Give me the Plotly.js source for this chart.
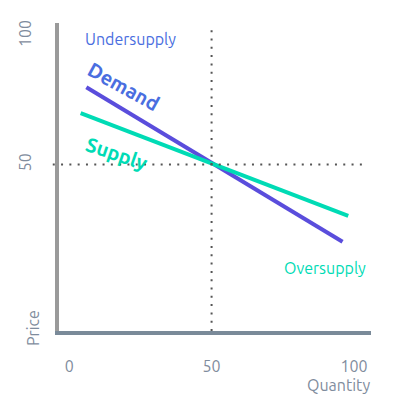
<!DOCTYPE html>
<html>
<head>
<meta charset="utf-8">
<script src="https://cdn.plot.ly/plotly-3.0.1.min.js"></script>
<style>html,body{margin:0;padding:0;background:#fff;}#chart{width:393px;height:415px;}</style>
</head>
<body>
<div id="chart"></div>
<script>
const demandQuantity = [6, 96];
const demandPrice = [80, 20];
const supplyQuantity = [4, 98];
const supplyPrice = [70, 30];
const xTickVals = [0, 50, 100];
const xTickText = ['0', '50', '100'];
const yTickVals = [50, 100];
const yTickText = ['50', '100'];
const equilibriumQuantity = 50;
const equilibriumPrice = 50;

const FONT = 'Ubuntu, "Open Sans", "DejaVu Sans", sans-serif';
const GREY = '#7f8c9d';
const BLUE = '#4a6ee0';
const TEAL = '#00dbb5';

const data = [
  {x: demandQuantity, y: demandPrice, mode: 'lines', line: {color: '#5a4ddc', width: 4}, hoverinfo: 'skip'},
  {x: supplyQuantity, y: supplyPrice, mode: 'lines', line: {color: TEAL, width: 4}, hoverinfo: 'skip'}
];

const layout = {
  width: 393, height: 415,
  margin: {l: 59, r: 22, t: 23, b: 84},
  paper_bgcolor: '#fff', plot_bgcolor: '#fff',
  showlegend: false,
  font: {family: FONT, color: GREY, size: 16},
  xaxis: {
    range: [-3.6, 106], showgrid: false, zeroline: false,
    showline: true, linecolor: '#7a8a99', linewidth: 4,
    tickvals: xTickVals, ticktext: xTickText,
    ticks: 'outside', ticklen: 18, tickcolor: 'rgba(0,0,0,0)',
    tickfont: {family: FONT, color: GREY, size: 16}, fixedrange: true
  },
  yaxis: {
    range: [-14.7, 105], showgrid: false, zeroline: false,
    showline: true, linecolor: '#9a9a9a', linewidth: 4,
    tickvals: yTickVals, ticktext: yTickText, tickangle: -90,
    ticks: 'outside', ticklen: 18, tickcolor: 'rgba(0,0,0,0)',
    tickfont: {family: FONT, color: GREY, size: 16}, fixedrange: true
  },
  shapes: [
    {type: 'line', xref: 'x', yref: 'paper', x0: equilibriumQuantity, x1: equilibriumQuantity, y0: 0, y1: 0.98,
     line: {color: '#555', width: 2, dash: '2px,6.3px'}},
    {type: 'line', xref: 'paper', yref: 'y', x0: -0.02, x1: 0.985, y0: equilibriumPrice, y1: equilibriumPrice,
     line: {color: '#555', width: 2, dash: '2px,6.3px'}}
  ],
  annotations: [
    {text: 'Undersupply', x: 130, y: 39, showarrow: false,
     font: {family: FONT, color: BLUE, size: 16}},
    {text: '<b>Demand</b>', x: 124, y: 86, showarrow: false, textangle: 29,
     font: {family: FONT, color: BLUE, size: 20}},
    {text: '<b>Supply</b>', x: 117, y: 153, showarrow: false, textangle: 19,
     font: {family: FONT, color: TEAL, size: 20}},
    {text: 'Oversupply', x: 325, y: 268, showarrow: false,
     font: {family: FONT, color: TEAL, size: 16}},
    {text: 'Price', x: 33, y: 328, showarrow: false, textangle: -90,
     font: {family: FONT, color: GREY, size: 16}},
    {text: 'Quantity', x: 338, y: 385, showarrow: false,
     font: {family: FONT, color: GREY, size: 16}}
  ]
};

// convert pixel-placed annotations to paper coordinates
const W = 393, H = 415, L = layout.margin.l, R = layout.margin.r, T = layout.margin.t, B = layout.margin.b;
const pw = W - L - R, ph = H - T - B;
layout.annotations.forEach(a => {
  a.xref = 'paper'; a.yref = 'paper';
  a.x = (a.x - L) / pw;
  a.y = 1 - (a.y - T) / ph;
  a.xanchor = 'center'; a.yanchor = 'middle';
});

Plotly.newPlot('chart', data, layout, {displayModeBar: false, staticPlot: true});
</script>
</body>
</html>
